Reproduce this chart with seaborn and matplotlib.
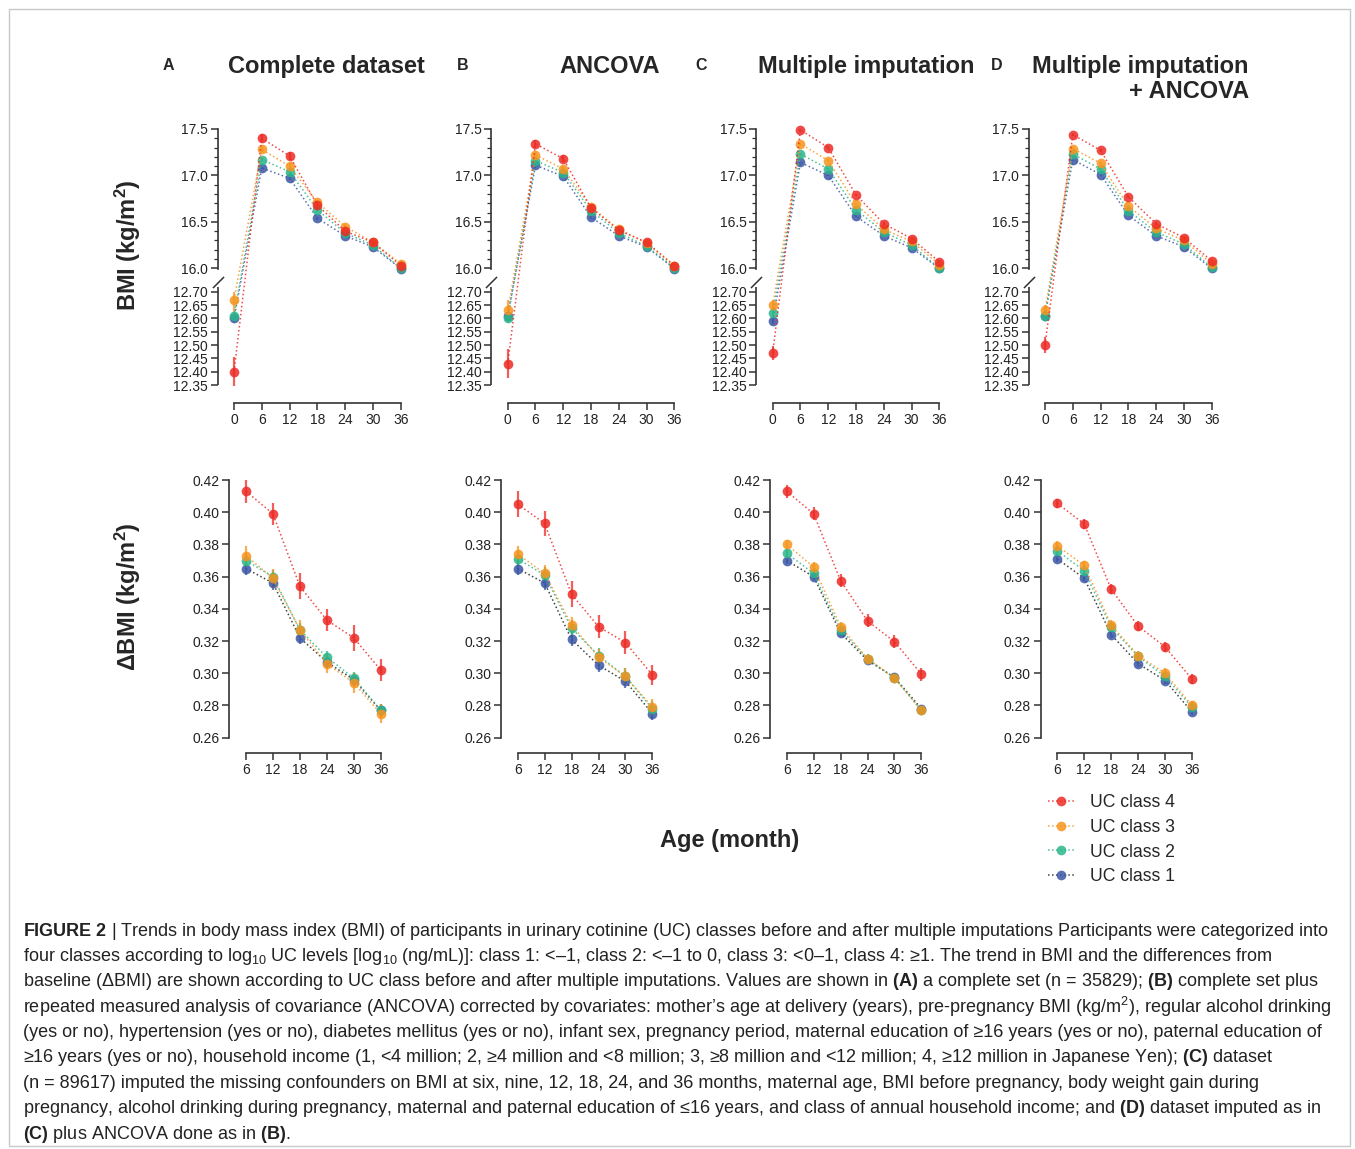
import numpy as np
import matplotlib
matplotlib.use("Agg")
import matplotlib.pyplot as plt
import seaborn as sns
from matplotlib.ticker import FixedLocator, FuncFormatter, NullLocator
from matplotlib.patches import Rectangle

months = [0, 6, 12, 18, 24, 30, 36]
delta_months = [6, 12, 18, 24, 30, 36]
classes = ["UC class 1", "UC class 2", "UC class 3", "UC class 4"]
class_colors = ["#3b57a6", "#2bb68a", "#f7941d", "#ec2a25"]
delta_line_colors = ["#222222", "#2bb68a", "#f7941d", "#ec2a25"]

panel_letters = ["A", "B", "C", "D"]
panel_titles = ["Complete dataset", "ANCOVA", "Multiple imputation", "Multiple imputation\n+ ANCOVA"]

bmi_ticks_low = [12.35, 12.40, 12.45, 12.50, 12.55, 12.60, 12.65, 12.70]
bmi_ticks_high = [16.0, 16.5, 17.0, 17.5]
delta_ticks = [0.26, 0.28, 0.30, 0.32, 0.34, 0.36, 0.38, 0.40, 0.42]

# BMI, one row per class (1, 2, 3, 4)
bmi_A = [[12.60, 17.08, 16.97, 16.54, 16.35, 16.23, 15.97],
         [12.61, 17.17, 17.04, 16.63, 16.38, 16.25, 16.00],
         [12.67, 17.28, 17.10, 16.71, 16.45, 16.28, 16.05],
         [12.40, 17.40, 17.21, 16.68, 16.40, 16.28, 16.03]]
bmi_B = [[12.61, 17.11, 16.99, 16.55, 16.35, 16.23, 15.97],
         [12.60, 17.16, 17.03, 16.62, 16.38, 16.24, 15.99],
         [12.63, 17.22, 17.07, 16.66, 16.42, 16.27, 16.02],
         [12.43, 17.34, 17.18, 16.65, 16.41, 16.28, 16.03]]
bmi_C = [[12.59, 17.14, 17.00, 16.56, 16.35, 16.22, 15.98],
         [12.62, 17.23, 17.07, 16.63, 16.39, 16.25, 16.00],
         [12.65, 17.34, 17.16, 16.69, 16.42, 16.29, 16.04],
         [12.47, 17.49, 17.30, 16.79, 16.48, 16.32, 16.07]]
bmi_D = [[12.61, 17.17, 17.01, 16.57, 16.35, 16.23, 15.98],
         [12.61, 17.23, 17.07, 16.62, 16.39, 16.26, 16.01],
         [12.63, 17.29, 17.13, 16.67, 16.43, 16.30, 16.05],
         [12.50, 17.44, 17.27, 16.77, 16.48, 16.33, 16.08]]

bmi_err_A = [[0.015, 0.015, 0.015, 0.015, 0.015, 0.015, 0.015],
             [0.015, 0.02, 0.02, 0.02, 0.02, 0.02, 0.02],
             [0.045, 0.03, 0.03, 0.03, 0.03, 0.025, 0.025],
             [0.055, 0.045, 0.04, 0.04, 0.035, 0.04, 0.035]]
bmi_err_B = [[0.015, 0.015, 0.015, 0.015, 0.015, 0.015, 0.015],
             [0.015, 0.02, 0.02, 0.02, 0.02, 0.02, 0.02],
             [0.04, 0.03, 0.03, 0.03, 0.025, 0.02, 0.02],
             [0.055, 0.045, 0.04, 0.035, 0.03, 0.04, 0.03]]
bmi_err_C = [[0.01, 0.01, 0.01, 0.01, 0.01, 0.01, 0.01],
             [0.01, 0.01, 0.01, 0.01, 0.01, 0.01, 0.01],
             [0.02, 0.012, 0.012, 0.012, 0.012, 0.012, 0.012],
             [0.025, 0.015, 0.015, 0.015, 0.015, 0.015, 0.015]]
bmi_err_D = [[0.01, 0.01, 0.01, 0.01, 0.01, 0.01, 0.01],
             [0.01, 0.01, 0.01, 0.01, 0.01, 0.01, 0.01],
             [0.02, 0.012, 0.012, 0.012, 0.012, 0.012, 0.012],
             [0.03, 0.015, 0.015, 0.015, 0.015, 0.015, 0.015]]

# change from baseline (ΔBMI)
delta_A = [[0.365, 0.356, 0.322, 0.307, 0.296, 0.277],
           [0.370, 0.360, 0.327, 0.310, 0.297, 0.277],
           [0.373, 0.359, 0.327, 0.306, 0.294, 0.275],
           [0.413, 0.399, 0.354, 0.333, 0.322, 0.302]]
delta_B = [[0.365, 0.356, 0.321, 0.305, 0.295, 0.275],
           [0.371, 0.361, 0.328, 0.311, 0.298, 0.278],
           [0.374, 0.362, 0.330, 0.310, 0.298, 0.279],
           [0.405, 0.393, 0.349, 0.329, 0.319, 0.299]]
delta_C = [[0.370, 0.360, 0.325, 0.308, 0.2975, 0.278],
           [0.3745, 0.362, 0.327, 0.309, 0.297, 0.277],
           [0.380, 0.366, 0.329, 0.309, 0.297, 0.277],
           [0.413, 0.399, 0.3575, 0.3325, 0.3196, 0.2995]]
delta_D = [[0.371, 0.359, 0.324, 0.306, 0.2955, 0.276],
           [0.376, 0.3636, 0.3285, 0.3105, 0.298, 0.279],
           [0.379, 0.367, 0.330, 0.311, 0.300, 0.280],
           [0.4055, 0.3927, 0.3522, 0.3293, 0.3164, 0.2963]]

delta_err_A = [[0.004] * 6, [0.004] * 6, [0.006] * 6,
               [0.007, 0.007, 0.008, 0.007, 0.008, 0.007]]
delta_err_B = [[0.004] * 6, [0.005] * 6, [0.005] * 6,
               [0.008, 0.008, 0.008, 0.007, 0.007, 0.006]]
delta_err_C = [[0.002] * 6, [0.003] * 6, [0.003] * 6, [0.004] * 6]
delta_err_D = [[0.002] * 6, [0.003] * 6, [0.003] * 6, [0.003] * 6]

bmi_sets = [bmi_A, bmi_B, bmi_C, bmi_D]
bmi_errs = [bmi_err_A, bmi_err_B, bmi_err_C, bmi_err_D]
delta_sets = [delta_A, delta_B, delta_C, delta_D]
delta_errs = [delta_err_A, delta_err_B, delta_err_C, delta_err_D]

caption_lines = [
    r"$\mathbf{FIGURE\ 2}$ | Trends in body mass index (BMI) of participants in urinary cotinine (UC) classes before and after multiple imputations Participants were categorized into",
    r"four classes according to log$_{10}$ UC levels [log$_{10}$ (ng/mL)]: class 1: <–1, class 2: <–1 to 0, class 3: <0–1, class 4: ≥1. The trend in BMI and the differences from",
    r"baseline (ΔBMI) are shown according to UC class before and after multiple imputations. Values are shown in $\mathbf{(A)}$ a complete set (n = 35829); $\mathbf{(B)}$ complete set plus",
    r"repeated measured analysis of covariance (ANCOVA) corrected by covariates: mother’s age at delivery (years), pre-pregnancy BMI (kg/m$^2$), regular alcohol drinking",
    r"(yes or no), hypertension (yes or no), diabetes mellitus (yes or no), infant sex, pregnancy period, maternal education of ≥16 years (yes or no), paternal education of",
    r"≥16 years (yes or no), household income (1, <4 million; 2, ≥4 million and <8 million; 3, ≥8 million and <12 million; 4, ≥12 million in Japanese Yen); $\mathbf{(C)}$ dataset",
    r"(n = 89617) imputed the missing confounders on BMI at six, nine, 12, 18, 24, and 36 months, maternal age, BMI before pregnancy, body weight gain during",
    r"pregnancy, alcohol drinking during pregnancy, maternal and paternal education of ≤16 years, and class of annual household income; and $\mathbf{(D)}$ dataset imputed as in",
    r"$\mathbf{(C)}$ plus ANCOVA done as in $\mathbf{(B)}$.",
]

sns.set_theme(style="ticks")
plt.rcParams["font.family"] = ["Liberation Sans", "DejaVu Sans"]
plt.rcParams["mathtext.fontset"] = "custom"
plt.rcParams["mathtext.rm"] = "Liberation Sans"
plt.rcParams["mathtext.bf"] = "Liberation Sans:bold"
plt.rcParams["mathtext.it"] = "Liberation Sans:italic"

W, H = 1355, 1149
fig = plt.figure(figsize=(W / 100, H / 100), dpi=100)


# broken y scale: 12.35-12.70 stretched, gap squeezed, 16.0-17.5 normal
K_LOW, K_GAP, K_HIGH = 266.6, 23.4 / 3.3, 92.9


def fwd(y):
    y = np.asarray(y, dtype=float)
    return np.where(y < 12.70, (y - 12.70) * K_LOW,
                    np.where(y < 16.0, (y - 12.70) * K_GAP, 23.4 + (y - 16.0) * K_HIGH))


def inv(u):
    u = np.asarray(u, dtype=float)
    return np.where(u < 0, 12.70 + u / K_LOW,
                    np.where(u < 23.4, 12.70 + u / K_GAP, 16.0 + (u - 23.4) / K_HIGH))


def px_axes(left, top, width, height):
    return fig.add_axes([left / W, 1 - (top + height) / H, width / W, height / H])


def draw_series(ax, x, sets, errs, line_colors):
    for i, cls in enumerate(classes):
        c = class_colors[i]
        eb = ax.errorbar(x, sets[i], yerr=errs[i], fmt="none", ecolor=c,
                         elinewidth=1.6, capsize=0, alpha=0.75, zorder=2)
        for art in eb.get_children():
            art.set_clip_on(False)
        sns.lineplot(x=x, y=sets[i], ax=ax, color=line_colors[i], linestyle=":",
                     linewidth=1.1, alpha=0.85, marker="o", markersize=7,
                     markerfacecolor=c, markeredgecolor=c, markeredgewidth=0,
                     errorbar=None, legend=False, label=cls, clip_on=False, zorder=3 + i)


def style_axis(ax):
    sns.despine(ax=ax)
    for s in ["left", "bottom"]:
        ax.spines[s].set_color("#333333")
        ax.spines[s].set_linewidth(1.2)
    ax.tick_params(axis="both", which="major", direction="out", length=5, width=1.1,
                   color="#333333", labelsize=10, labelcolor="#222222", pad=2)
    ax.tick_params(axis="y", which="minor", direction="out", length=3, width=0.9, color="#333333")
    ax.set_xlabel("")
    ax.set_ylabel("")


top_x0 = [234, 507.7, 772.7, 1045]
bot_x6 = [246, 517.7, 786.7, 1057.3]

for k in range(4):
    # BMI panel with broken axis
    ppu = 4.63
    ax = px_axes(top_x0[k] - 3.5 * ppu, 129, 40.5 * ppu, 256)
    ax.set_yscale("function", functions=(fwd, inv))
    ax.set_ylim(12.35, 17.5)
    ax.set_xlim(-3.5, 37)
    draw_series(ax, months, bmi_sets[k], bmi_errs[k], class_colors)
    style_axis(ax)
    ax.yaxis.set_major_locator(FixedLocator(bmi_ticks_low + bmi_ticks_high))
    ax.yaxis.set_major_formatter(FuncFormatter(lambda v, p: f"{v:.1f}" if v > 14 else f"{v:.2f}"))
    ax.yaxis.set_minor_locator(FixedLocator([v for v in np.arange(16.0, 17.5, 0.1).round(1)
                                             if v not in bmi_ticks_high]))
    ax.set_xticks(months)
    ax.spines["left"].set_bounds(15.9, 17.5)
    ax.spines["bottom"].set_bounds(0, 36)
    ax.spines["bottom"].set_position(("outward", 13))
    ytr = ax.get_yaxis_transform()
    ax.plot([0, 0], [bmi_ticks_low[0], 13.4], transform=ytr, color="#333333", lw=1.2,
            clip_on=False, solid_capstyle="butt")
    ax.plot([0], [14.1], transform=ytr, marker=[(-1, -1), (1, 1)], markersize=8,
            mew=1.1, mec="#333333", linestyle="none", clip_on=False)

    # delta BMI panel
    ppu = 4.49
    ax2 = px_axes(bot_x6[k] - 3.7 * ppu, 480, 34.7 * ppu, 257.7)
    ax2.set_xlim(6 - 3.7, 6 - 3.7 + 34.7)
    ax2.set_ylim(0.26, 0.42)
    draw_series(ax2, delta_months, delta_sets[k], delta_errs[k], delta_line_colors)
    style_axis(ax2)
    ax2.set_yticks(delta_ticks)
    ax2.yaxis.set_major_formatter(FuncFormatter(lambda v, p: f"{v:.2f}"))
    ax2.yaxis.set_minor_locator(NullLocator())
    ax2.set_xticks(delta_months)
    ax2.spines["bottom"].set_bounds(6, 36)
    ax2.spines["bottom"].set_position(("outward", 11))
    legend_ax = ax2

# panel letters and titles
letter_x = [168, 463, 701, 997]
title_right = [425, 660, 974, 1249]
for k in range(4):
    fig.text(letter_x[k] / W, 1 - 66 / H, panel_letters[k], fontsize=11.5,
             fontweight="bold", ha="center", va="center")
    fig.text(title_right[k] / W, 1 - 55 / H, panel_titles[k], fontsize=17,
             fontweight="bold", ha="right", va="top", multialignment="right",
             linespacing=1.1)

fig.text(128 / W, 1 - 245 / H, r"BMI (kg/m$^{\mathbf{2}}$)", rotation=90, fontsize=17,
         fontweight="bold", ha="center", va="center")
fig.text(128 / W, 1 - 597 / H, r"ΔBMI (kg/m$^{\mathbf{2}}$)", rotation=90, fontsize=17,
         fontweight="bold", ha="center", va="center")
fig.text(730 / W, 1 - 840 / H, "Age (month)", fontsize=17, fontweight="bold",
         ha="center", va="center")

handles, labels = legend_ax.get_legend_handles_labels()
fig.legend(handles[::-1], labels[::-1], loc="upper left",
           bbox_to_anchor=(1041 / W, 1 - 787 / H), frameon=False, fontsize=12.7,
           handlelength=1.5, handletextpad=0.9, labelspacing=0.44, borderaxespad=0)

for i, line in enumerate(caption_lines):
    fig.text(23 / W, 1 - (931 + 25.4 * i) / H, line, fontsize=12.95, ha="left",
             va="center", color="#222222")

fig.patches.append(Rectangle((9 / W, 3 / H), 1341 / W, 1137 / H, transform=fig.transFigure,
                             fill=False, edgecolor="#c8c8c8", lw=1))

fig.savefig("out.png", dpi=100)
